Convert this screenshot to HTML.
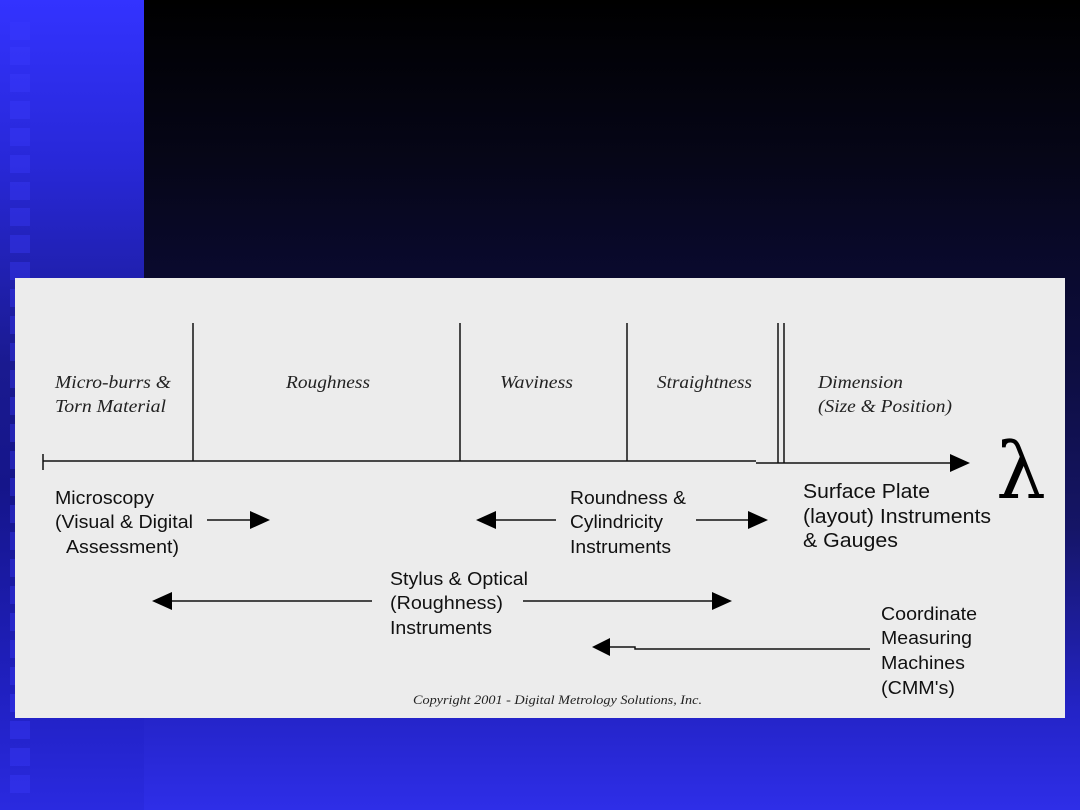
<!DOCTYPE html>
<html><head><meta charset="utf-8"><style>
html,body{margin:0;padding:0;width:1080px;height:810px;overflow:hidden}
body{position:relative;background:linear-gradient(to bottom,#000 0%,#060618 20%,#0d0d40 45%,#151566 65%,#2424c8 88%,#2e2ee8 100%)}
#left{position:absolute;left:0;top:0;width:144px;height:810px;background:linear-gradient(to bottom,#3333ff 0%,#2828d8 20%,#1a1a90 45%,#15158a 60%,#2020c0 85%,#2a2ae0 100%)}
.sq{position:absolute;left:10px;width:20px;height:18px;background:rgba(60,60,255,0.35)}
#panel{position:absolute;left:15px;top:278px;width:1050px;height:440px;background:#ececec}
svg{position:absolute;left:0;top:0}
</style></head><body>
<div id="left"></div>
<div class="sq" style="top:22px"></div><div class="sq" style="top:47px"></div><div class="sq" style="top:74px"></div><div class="sq" style="top:101px"></div><div class="sq" style="top:128px"></div><div class="sq" style="top:155px"></div><div class="sq" style="top:182px"></div><div class="sq" style="top:208px"></div><div class="sq" style="top:235px"></div><div class="sq" style="top:262px"></div>
<div class="sq" style="top:289px"></div><div class="sq" style="top:316px"></div><div class="sq" style="top:343px"></div><div class="sq" style="top:370px"></div><div class="sq" style="top:397px"></div><div class="sq" style="top:424px"></div><div class="sq" style="top:451px"></div><div class="sq" style="top:478px"></div><div class="sq" style="top:505px"></div><div class="sq" style="top:532px"></div><div class="sq" style="top:559px"></div><div class="sq" style="top:586px"></div><div class="sq" style="top:613px"></div><div class="sq" style="top:640px"></div><div class="sq" style="top:667px"></div><div class="sq" style="top:694px"></div><div class="sq" style="top:721px"></div><div class="sq" style="top:748px"></div><div class="sq" style="top:775px"></div>
<div id="panel"></div>
<svg width="1080" height="810" xmlns="http://www.w3.org/2000/svg">
<g stroke="#111" stroke-width="1.5" fill="none">
<line x1="43" y1="461" x2="756" y2="461"/>
<line x1="756" y1="463" x2="952" y2="463"/>
<line x1="43" y1="454" x2="43" y2="470"/>
<line x1="193" y1="323" x2="193" y2="461"/>
<line x1="460" y1="323" x2="460" y2="461"/>
<line x1="627" y1="323" x2="627" y2="461"/>
<line x1="778" y1="323" x2="778" y2="463"/>
<line x1="784" y1="323" x2="784" y2="463"/>
<line x1="207" y1="520" x2="252" y2="520"/>
<line x1="494" y1="520" x2="556" y2="520"/>
<line x1="696" y1="520" x2="750" y2="520"/>
<line x1="170" y1="601" x2="372" y2="601"/>
<line x1="523" y1="601" x2="714" y2="601"/>
<polyline points="608,647 635,647 635,649 870,649"/>
</g>
<g fill="#000">
<polygon points="950,454 970,463 950,472"/>
<polygon points="250,511 270,520 250,529"/>
<polygon points="496,511 476,520 496,529"/>
<polygon points="748,511 768,520 748,529"/>
<polygon points="172,592 152,601 172,610"/>
<polygon points="712,592 732,601 712,610"/>
<polygon points="610,638 592,647 610,656"/>
</g>
<g font-family="Liberation Serif, serif" font-style="italic" font-size="18" fill="#222">
<text x="55" y="388" textLength="116" lengthAdjust="spacingAndGlyphs">Micro-burrs &amp;</text>
<text x="55" y="412" textLength="111" lengthAdjust="spacingAndGlyphs">Torn Material</text>
<text x="286" y="388" textLength="84" lengthAdjust="spacingAndGlyphs">Roughness</text>
<text x="500" y="388" textLength="73" lengthAdjust="spacingAndGlyphs">Waviness</text>
<text x="657" y="388" textLength="95" lengthAdjust="spacingAndGlyphs">Straightness</text>
<text x="818" y="388" textLength="85" lengthAdjust="spacingAndGlyphs">Dimension</text>
<text x="818" y="412" textLength="134" lengthAdjust="spacingAndGlyphs">(Size &amp; Position)</text>
<text x="413" y="704" font-size="13" textLength="289" lengthAdjust="spacingAndGlyphs">Copyright 2001 - Digital Metrology Solutions, Inc.</text>
</g>
<text x="996" y="498" font-family="DejaVu Serif, serif" font-size="78" fill="#000" textLength="50" lengthAdjust="spacingAndGlyphs">λ</text>
<g font-family="Liberation Sans, sans-serif" font-size="18" fill="#111">
<text x="55" y="504" textLength="99" lengthAdjust="spacingAndGlyphs">Microscopy</text>
<text x="55" y="528" textLength="138" lengthAdjust="spacingAndGlyphs">(Visual &amp; Digital</text>
<text x="66" y="553" textLength="113" lengthAdjust="spacingAndGlyphs">Assessment)</text>
<text x="570" y="504" textLength="116" lengthAdjust="spacingAndGlyphs">Roundness &amp;</text>
<text x="570" y="528" textLength="93" lengthAdjust="spacingAndGlyphs">Cylindricity</text>
<text x="570" y="553" textLength="101" lengthAdjust="spacingAndGlyphs">Instruments</text>
<text x="390" y="585" textLength="138" lengthAdjust="spacingAndGlyphs">Stylus &amp; Optical</text>
<text x="390" y="609" textLength="113" lengthAdjust="spacingAndGlyphs">(Roughness)</text>
<text x="390" y="634" textLength="102" lengthAdjust="spacingAndGlyphs">Instruments</text>
<text x="881" y="620" textLength="96" lengthAdjust="spacingAndGlyphs">Coordinate</text>
<text x="881" y="644" textLength="91" lengthAdjust="spacingAndGlyphs">Measuring</text>
<text x="881" y="669" textLength="84" lengthAdjust="spacingAndGlyphs">Machines</text>
<text x="881" y="694" textLength="74" lengthAdjust="spacingAndGlyphs">(CMM's)</text>
<g font-size="20"><text x="803" y="498" textLength="127" lengthAdjust="spacingAndGlyphs">Surface Plate</text>
<text x="803" y="523" textLength="188" lengthAdjust="spacingAndGlyphs">(layout) Instruments</text>
<text x="803" y="547" textLength="95" lengthAdjust="spacingAndGlyphs">&amp; Gauges</text></g>
</g>
</svg>
</body></html>
